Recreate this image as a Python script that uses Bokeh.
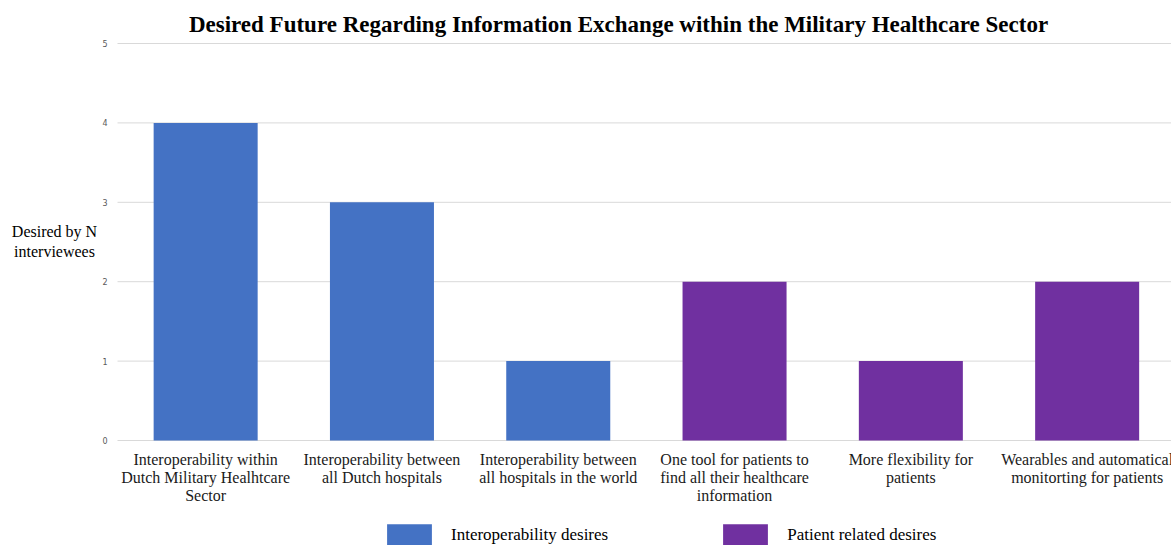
from bokeh.plotting import figure
from bokeh.models import ColumnDataSource, Label, Legend, LegendItem, Range1d
from bokeh.core.properties import value
from bokeh.embed import file_html
from bokeh.resources import INLINE

# ---- data ----
categories = [
    "Interoperability within\nDutch Military Healhtcare\nSector",
    "Interoperability between\nall Dutch hospitals",
    "Interoperability between\nall hospitals in the world",
    "One tool for patients to\nfind all their healthcare\ninformation",
    "More flexibility for\npatients",
    "Wearables and automatical\nmonitorting for patients",
]
values = [4, 3, 1, 2, 1, 2]
groups = ["Interoperability desires"] * 3 + ["Patient related desires"] * 3
group_names = ["Interoperability desires", "Patient related desires"]
group_colors = {"Interoperability desires": "#4472C4", "Patient related desires": "#7030A0"}
y_ticks = [0, 1, 2, 3, 4, 5]
title_text = "Desired Future Regarding Information Exchange within the Military Healthcare Sector"
y_label = "Desired by N\ninterviewees"

# ---- layout (pixels) ----
W, H = 1171, 545
PLOT_LEFT, PLOT_TOP, PLOT_BOTTOM = 117, 43, 440
CAT_PX = 176.3
Y_MAX = 5
unit_y = (PLOT_BOTTOM - PLOT_TOP) / Y_MAX
n = len(categories)

x_range = Range1d(-PLOT_LEFT / CAT_PX, (W - PLOT_LEFT) / CAT_PX)
y_range = Range1d(-(H - PLOT_BOTTOM) / unit_y, Y_MAX + PLOT_TOP / unit_y)

SERIF = "Liberation Serif"

p = figure(width=W, height=H, output_backend="svg", toolbar_location=None,
           x_range=x_range, y_range=y_range, title=None,
           x_axis_location=None, y_axis_location=None,
           min_border=0, min_border_left=0, min_border_right=0,
           min_border_top=0, min_border_bottom=0)
p.outline_line_color = None
p.background_fill_color = "white"
p.border_fill_color = "white"
p.grid.visible = False

# grid lines across the plotting area
p.segment(x0=[0] * len(y_ticks), x1=[n + 0.1] * len(y_ticks), y0=y_ticks, y1=y_ticks,
          line_color="#d9d9d9", line_width=1)

# y tick labels
p.text(x=[0] * len(y_ticks), y=y_ticks, text=[str(t) for t in y_ticks],
       x_offset=-10, text_align="right", text_baseline="middle",
       text_font=value("DejaVu Sans"), text_font_size="8px", text_color="#595959")

# bars
renderers = {}
for g in group_names:
    idx = [i for i, gg in enumerate(groups) if gg == g]
    src = ColumnDataSource(dict(x=[i + 0.5 for i in idx], top=[values[i] for i in idx]))
    renderers[g] = p.vbar(x="x", top="top", width=0.59, bottom=0, source=src,
                          fill_color=group_colors[g], line_color=None)

# category labels
p.text(x=[i + 0.5 for i in range(n)], y=[0] * n, text=categories,
       y_offset=10, text_align="center", text_baseline="top",
       text_line_height=1.07,
       text_font=value(SERIF), text_font_size="16px", text_color="#1a1a1a")

# title
p.add_layout(Label(x=618, y=H - 24, x_units="screen", y_units="screen",
                   text=title_text, text_font=SERIF, text_font_size="23px",
                   text_font_style="bold", text_align="center",
                   text_baseline="alphabetic", text_color="black"))

# y label
p.add_layout(Label(x=54, y=H - 241, x_units="screen", y_units="screen",
                   text=y_label, text_font=SERIF, text_font_size="16px",
                   text_align="center", text_baseline="middle", text_color="black"))

legend = Legend(items=[LegendItem(label=g, renderers=[renderers[g]]) for g in group_names],
                orientation="horizontal", location=(381, -3),
                glyph_width=56, glyph_height=27, label_standoff=14, spacing=109,
                padding=0, margin=0, border_line_color=None, background_fill_alpha=0,
                label_text_font=SERIF, label_text_font_size="17px", label_text_color="black")
p.add_layout(legend, "center")

open("out.html", "w").write(file_html(p, INLINE))
